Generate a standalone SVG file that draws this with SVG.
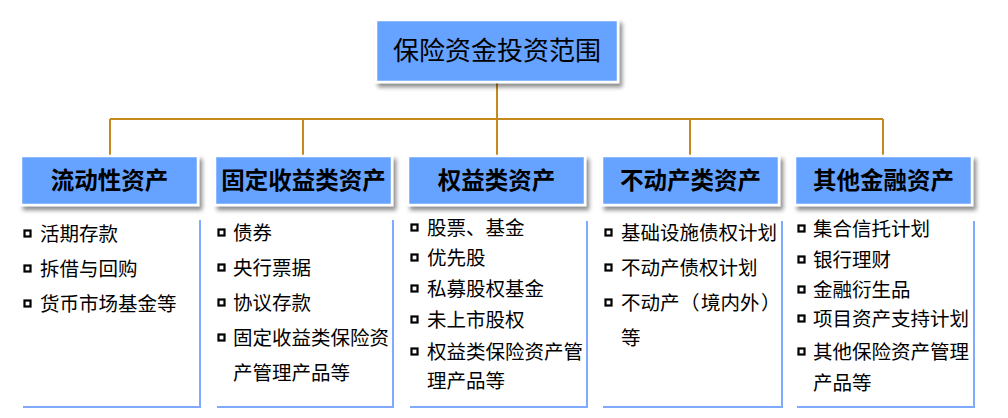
<svg xmlns="http://www.w3.org/2000/svg" width="1008" height="418" viewBox="0 0 1008 418">
<defs>
<filter id="sh" x="-10%" y="-20%" width="130%" height="160%">
<feDropShadow dx="3" dy="4" stdDeviation="2" flood-color="#000" flood-opacity="0.45"/>
</filter>
</defs>
<style>
.box{fill:#66A2FF;stroke:#fff;stroke-width:2.5;filter:url(#sh)}
.t1{font-family:"Noto Sans CJK SC","Noto Sans",sans-serif;font-size:26px;fill:#000;text-anchor:middle}
.t2{font-family:"Noto Sans CJK SC","Noto Sans",sans-serif;font-size:23.5px;font-weight:bold;fill:#000;text-anchor:middle}
.li{font-family:"Noto Sans CJK SC","Noto Sans",sans-serif;font-size:19.5px;fill:#000}
.bul{fill:none;stroke:#000;stroke-width:2.2}
.pan{fill:none;stroke:#7FAAFF;stroke-width:2}
.con{fill:none;stroke:#C48A1E;stroke-width:2}
</style>
<g id="connectors">
<path class="con" d="M497 82V119M110 119H883M110 119V156M303 119V156M497 119V156M690 119V156M883 119V156"/>
</g>
<g id="root">
<rect class="box" x="376" y="20" width="242" height="62"/>
<text class="t1" x="497" y="60">保险资金投资范围</text>
</g>
<g id="n1">
<rect class="box" x="21" y="156" width="177" height="49"/>
<text class="t2" x="109.5" y="189">流动性资产</text>
<path class="pan" d="M200 220V407H23"/>
<rect class="bul" x="24.5" y="230.5" width="6" height="6"/>
<rect class="bul" x="24.5" y="265.5" width="6" height="6"/>
<rect class="bul" x="24.5" y="300.5" width="6" height="6"/>
<text class="li" x="40" y="241">活期存款</text>
<text class="li" x="40" y="276">拆借与回购</text>
<text class="li" x="40" y="311">货币市场基金等</text>
</g>
<g id="n2">
<rect class="box" x="215" y="156" width="177" height="49"/>
<text class="t2" x="303.5" y="189">固定收益类资产</text>
<path class="pan" d="M393 220V407H217"/>
<rect class="bul" x="218.5" y="229.5" width="6" height="6"/>
<rect class="bul" x="218.5" y="264.5" width="6" height="6"/>
<rect class="bul" x="218.5" y="299.5" width="6" height="6"/>
<rect class="bul" x="218.5" y="334.5" width="6" height="6"/>
<text class="li" x="233" y="240">债券</text>
<text class="li" x="233" y="275">央行票据</text>
<text class="li" x="233" y="310">协议存款</text>
<text class="li" x="233" y="345">固定收益类保险资</text>
<text class="li" x="233" y="380">产管理产品等</text>
</g>
<g id="n3">
<rect class="box" x="408" y="156" width="177" height="49"/>
<text class="t2" x="496.5" y="189">权益类资产</text>
<path class="pan" d="M587 221V407H410"/>
<rect class="bul" x="411.5" y="224.5" width="6" height="6"/>
<rect class="bul" x="411.5" y="254.5" width="6" height="6"/>
<rect class="bul" x="411.5" y="285.5" width="6" height="6"/>
<rect class="bul" x="411.5" y="316.5" width="6" height="6"/>
<rect class="bul" x="411.5" y="348.5" width="6" height="6"/>
<text class="li" x="427" y="235">股票、基金</text>
<text class="li" x="427" y="265">优先股</text>
<text class="li" x="427" y="296">私募股权基金</text>
<text class="li" x="427" y="327">未上市股权</text>
<text class="li" x="427" y="359">权益类保险资产管</text>
<text class="li" x="427" y="388">理产品等</text>
</g>
<g id="n4">
<rect class="box" x="602" y="156" width="177" height="49"/>
<text class="t2" x="690.5" y="189">不动产类资产</text>
<path class="pan" d="M782 221V407H603"/>
<rect class="bul" x="605.5" y="229.5" width="6" height="6"/>
<rect class="bul" x="605.5" y="264.5" width="6" height="6"/>
<rect class="bul" x="605.5" y="299.5" width="6" height="6"/>
<text class="li" x="621" y="240">基础设施债权计划</text>
<text class="li" x="621" y="275">不动产债权计划</text>
<text class="li" x="621" y="310">不动产<tspan x="680">（</tspan><tspan x="701">境内外</tspan><tspan x="761">）</tspan></text>
<text class="li" x="621" y="345">等</text>
</g>
<g id="n5">
<rect class="box" x="795" y="156" width="177" height="49"/>
<text class="t2" x="883.5" y="189">其他金融资产</text>
<path class="pan" d="M974 221V407H797"/>
<rect class="bul" x="798.5" y="225.5" width="6" height="6"/>
<rect class="bul" x="798.5" y="256.5" width="6" height="6"/>
<rect class="bul" x="798.5" y="286.5" width="6" height="6"/>
<rect class="bul" x="798.5" y="315.5" width="6" height="6"/>
<rect class="bul" x="798.5" y="348.5" width="6" height="6"/>
<text class="li" x="813" y="236">集合信托计划</text>
<text class="li" x="813" y="267">银行理财</text>
<text class="li" x="813" y="297">金融衍生品</text>
<text class="li" x="813" y="326">项目资产支持计划</text>
<text class="li" x="813" y="359">其他保险资产管理</text>
<text class="li" x="813" y="390">产品等</text>
</g>
</svg>
